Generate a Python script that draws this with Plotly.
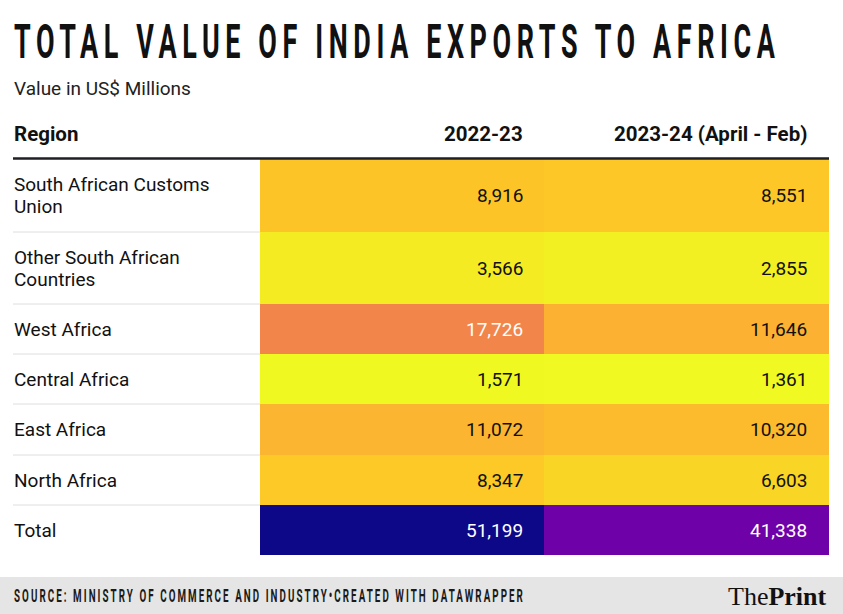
import plotly.graph_objects as go
from plotly.colors import sample_colorscale, hex_to_rgb

regions = ["South African Customs<br>Union", "Other South African<br>Countries", "West Africa",
           "Central Africa", "East Africa", "North Africa", "Total"]
columns = ["2022-23", "2023-24 (April - Feb)"]
values_2022_23 = [8916, 3566, 17726, 1571, 11072, 8347, 51199]
values_2023_24 = [8551, 2855, 11646, 1361, 10320, 6603, 41338]

title = "TOTAL VALUE OF INDIA EXPORTS TO AFRICA"
subtitle = "Value in US$ Millions"
source = "SOURCE: MINISTRY OF COMMERCE AND INDUSTRY\u2022CREATED WITH DATAWRAPPER"

W, H = 843, 614
row_edges = [159, 232, 304, 354, 404, 455, 505, 555]
col_edges = [260, 544, 829]
col_text_x = [525, 809]

z = [[a, b] for a, b in zip(values_2022_23, values_2023_24)]
allv = values_2022_23 + values_2023_24
zmin, zmax = min(allv), max(allv)
# plasma (reversed) with a slight gamma, like the Datawrapper palette
stops = [i / 20 for i in range(21)]
cscale = [[s, sample_colorscale("Plasma_r", [s ** 1.1])[0]] for s in stops]

fig = go.Figure()
fig.add_trace(go.Heatmap(
    z=z, x=col_edges, y=row_edges, zmin=zmin, zmax=zmax,
    colorscale=cscale, showscale=False, hoverinfo="skip", xgap=0, ygap=0,
))

BODY = "Roboto, Arial, sans-serif"

ann = []
ann.append(dict(x=12, y=41, text=title, xanchor="left", yanchor="middle", align="left", showarrow=False,
                font=dict(family=BODY, size=48, color="#111", weight="bold")))
ann.append(dict(x=12, y=595, text=source, xanchor="left", yanchor="middle", align="left", showarrow=False,
                font=dict(family=BODY, size=19, color="#1a1a1a", weight="bold")))
ann.append(dict(x=12, y=88, text=subtitle, xanchor="left", yanchor="middle", showarrow=False,
                font=dict(family=BODY, size=19, color="#222")))
ann.append(dict(x=12, y=134, text="<b>Region</b>", xanchor="left", yanchor="middle", showarrow=False,
                font=dict(family=BODY, size=20.5, color="#111")))
for cx, c in zip(col_text_x, columns):
    ann.append(dict(x=cx, y=134, text=f"<b>{c}</b>", xanchor="right", yanchor="middle", showarrow=False,
                    font=dict(family=BODY, size=20.5, color="#111")))


def text_color(v):
    col = sample_colorscale(cscale, [(v - zmin) / (zmax - zmin)])[0]
    if col.startswith("#"):
        r, g, b = hex_to_rgb(col)
    else:
        r, g, b = [float(t) for t in col[col.index("(") + 1:-1].split(",")[:3]]
    lum = (0.299 * r + 0.587 * g + 0.114 * b) / 255
    return "#ffffff" if lum < 0.67 else "#111111"


for i, reg in enumerate(regions):
    yc = (row_edges[i] + row_edges[i + 1]) / 2
    lines = reg.split("<br>")
    n = len(lines)
    for k, line in enumerate(lines):
        ly = yc + (k - (n - 1) / 2) * 22
        ann.append(dict(x=12, y=ly, text=line, xanchor="left", yanchor="middle", showarrow=False,
                        font=dict(family=BODY, size=19, color="#111")))
    for j, v in enumerate(z[i]):
        ann.append(dict(x=col_text_x[j], y=yc, text=f"{v:,}", xanchor="right", yanchor="middle",
                        showarrow=False, font=dict(family=BODY, size=19, color=text_color(v))))

ann.append(dict(x=829, y=596, text="The<b>Print</b>", xanchor="right", yanchor="middle", showarrow=False,
                font=dict(family="Liberation Serif, Times New Roman, serif", size=26, color="#111")))

shapes = []
shapes.append(dict(type="rect", x0=0, x1=W, y0=577, y1=H, fillcolor="#e5e5e5", line=dict(width=0),
                   layer="below", xref="x", yref="y"))
shapes.append(dict(type="line", x0=13, x1=829, y0=158.5, y1=158.5, line=dict(color="#1f1f24", width=2.5),
                   xref="x", yref="y"))
for yb in row_edges[1:-1]:
    shapes.append(dict(type="line", x0=13, x1=260, y0=yb, y1=yb, line=dict(color="#dedede", width=1),
                       xref="x", yref="y"))

fig.update_layout(
    width=W, height=H, autosize=False,
    margin=dict(l=0, r=0, t=0, b=0),
    paper_bgcolor="white", plot_bgcolor="white",
    xaxis=dict(range=[0, W], visible=False, fixedrange=True),
    yaxis=dict(range=[H, 0], visible=False, fixedrange=True),
    annotations=ann, shapes=shapes,
)

post_js = """
document.body.style.margin = '0';
var gd = document.getElementById('{plot_id}');
function squeeze(prefix, ls, target) {
  var els = gd.querySelectorAll('text.annotation-text');
  for (var i = 0; i < els.length; i++) {
    var el = els[i];
    if (el.textContent.indexOf(prefix) === 0) {
      el.style.letterSpacing = ls + 'px';
      var bb = el.getBBox();
      var sx = target / Math.max(1, bb.width - ls);
      var t = el.getAttribute('transform') || '';
      el.setAttribute('transform', t + ' translate(' + bb.x + ',0) scale(' + sx + ',1) translate(' + (-bb.x) + ',0)');
    }
  }
}
try { squeeze('TOTAL VALUE', 10, 761); } catch (e) {}
try { squeeze('SOURCE:', 4, 509); } catch (e) {}
"""

fig.write_html("out.html", post_script=post_js, config={"displayModeBar": False})
